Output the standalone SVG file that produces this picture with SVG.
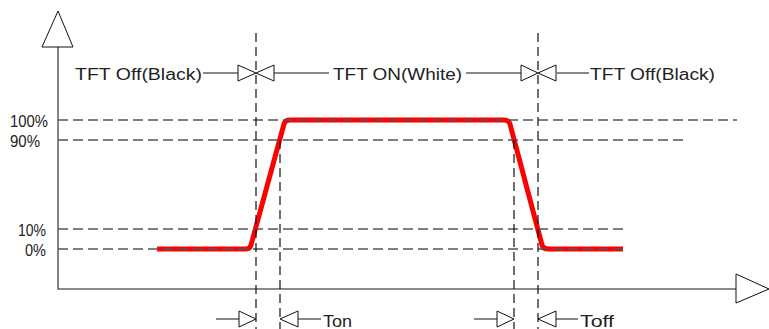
<svg xmlns="http://www.w3.org/2000/svg" width="769" height="329" viewBox="0 0 769 329">
<style>
.t{font-family:"Liberation Sans",Arial,sans-serif;font-size:16px;fill:#222}
.ax{stroke:#666;stroke-width:1.6;fill:none}
.hd{stroke:#555;stroke-width:1.3;stroke-dasharray:10 5;fill:none}
.vd{stroke:#111;stroke-width:1.2;stroke-dasharray:9 5;fill:none}
.ln{stroke:#111;stroke-width:1;fill:none}
.tri{stroke:#111;stroke-width:1;fill:#fff}
.sig{stroke:#f00;stroke-width:5;fill:none;stroke-linejoin:round;stroke-linecap:butt}
</style>
<rect width="769" height="329" fill="#fff"/>
<g id="axes">
<path class="ax" d="M58,47 V289 H736"/>
<polygon class="tri" points="58,11 42,47 73,47"/>
<polygon class="tri" points="736,274 736,303 769,289"/>
</g>
<g id="signal">
<path class="sig" d="M157,249 H246 Q250,249 251,245 L284,124 Q285,120 290,120 H504 Q509,120 510,124 L542,245 Q543,249 548,249 H623"/>
</g>
<g id="guides">
<path class="hd" d="M58,120 H737"/>
<path class="hd" d="M58,140 H685"/>
<path class="hd" d="M58,229 H624"/>
<path class="hd" d="M58,249 H624"/>
<path class="vd" d="M256,33 V329"/>
<path class="vd" d="M538,33 V329"/>
<path class="vd" d="M280,140 V329"/>
<path class="vd" d="M514,140 V329"/>
</g>
<g id="labels">
<text class="t" x="48" y="127" text-anchor="end" textLength="38" lengthAdjust="spacingAndGlyphs">100%</text>
<text class="t" x="40" y="147" text-anchor="end" textLength="30" lengthAdjust="spacingAndGlyphs">90%</text>
<text class="t" x="46" y="236" text-anchor="end" textLength="28" lengthAdjust="spacingAndGlyphs">10%</text>
<text class="t" x="46" y="256" text-anchor="end" textLength="21" lengthAdjust="spacingAndGlyphs">0%</text>
</g>
<g id="top-row">
<text class="t" x="75" y="80" textLength="127" lengthAdjust="spacingAndGlyphs">TFT Off(Black)</text>
<path class="ln" d="M203,73 H238 M274,73 H329 M466,73 H521 M557,73 H589"/>
<polygon class="tri" points="238,65 238,81 256,73"/>
<polygon class="tri" points="274,65 274,81 256,73"/>
<text class="t" x="333" y="80" textLength="129" lengthAdjust="spacingAndGlyphs">TFT ON(White)</text>
<polygon class="tri" points="521,65 521,81 538,73"/>
<polygon class="tri" points="556,65 556,81 538,73"/>
<text class="t" x="590" y="80" textLength="125" lengthAdjust="spacingAndGlyphs">TFT Off(Black)</text>
</g>
<g id="ton">
<path class="ln" d="M216,319 H239 M298,319 H321"/>
<polygon class="tri" points="239,311 239,327 256,319"/>
<polygon class="tri" points="298,311 298,327 280,319"/>
<text class="t" x="323" y="327" textLength="29" lengthAdjust="spacingAndGlyphs">Ton</text>
</g>
<g id="toff">
<path class="ln" d="M474,319 H497 M556,319 H578"/>
<polygon class="tri" points="497,311 497,327 514,319"/>
<polygon class="tri" points="556,311 556,327 538,319"/>
<text class="t" x="580" y="327" textLength="34" lengthAdjust="spacingAndGlyphs">Toff</text>
</g>
</svg>
